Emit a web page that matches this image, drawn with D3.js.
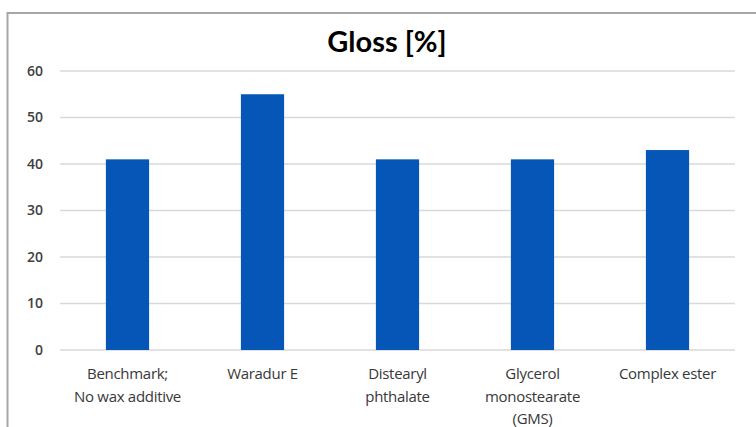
<!DOCTYPE html>
<html>
<head>
<meta charset="utf-8">
<script src="https://cdn.jsdelivr.net/npm/d3@7"></script>
<style>
  body { margin: 0; background: #fff; }
  svg { display: block; }
</style>
</head>
<body>
<div id="chart"></div>
<script>
// data
var categories = [
  ["Benchmark;", "No wax additive"],
  ["Waradur E"],
  ["Distearyl", "phthalate"],
  ["Glycerol", "monostearate", "(GMS)"],
  ["Complex ester"]
];
var gloss = [41, 55, 41, 41, 43];
var yTicks = [0, 10, 20, 30, 40, 50, 60];

var svgWidth = 756;
var svgHeight = 427;

var margin = { top: 71, bottom: 77, left: 60, right: 21 };
var width = svgWidth - margin.left - margin.right;
var height = svgHeight - margin.top - margin.bottom;

var svg = d3.select("#chart")
  .append("svg")
  .attr("width", svgWidth)
  .attr("height", svgHeight);

// outer frame (runs off the right and bottom)
svg.append("rect")
  .attr("x", 7.5)
  .attr("y", 13)
  .attr("width", 800)
  .attr("height", 500)
  .attr("fill", "none")
  .attr("stroke", "#a6a6a6")
  .attr("stroke-width", 2);

svg.append("text")
  .attr("x", 387)
  .attr("y", 52)
  .attr("text-anchor", "middle")
  .attr("font-family", "Lato, sans-serif")
  .attr("font-weight", "bold")
  .attr("font-size", "29px")
  .attr("fill", "#000")
  .text("Gloss [%]");

var chart = svg.append("g")
  .attr("transform", `translate(${margin.left}, ${margin.top})`);

var idx = categories.map((d, i) => i);

var xScale = d3.scaleBand()
  .domain(idx)
  .range([0, width])
  .paddingInner(0.68)
  .paddingOuter(0.34);

var yScale = d3.scaleLinear()
  .domain([0, 60])
  .range([height, 0]);

// gridlines
chart.append("g")
  .selectAll("line")
  .data(yTicks)
  .enter()
  .append("line")
  .attr("x1", 0)
  .attr("x2", width)
  .attr("y1", d => yScale(d))
  .attr("y2", d => yScale(d))
  .attr("stroke", "#d9d9d9")
  .attr("stroke-width", 1.5);

// y axis labels
var leftAxis = d3.axisLeft(yScale).tickValues(yTicks).tickSize(0).tickPadding(17);
var yAxisG = chart.append("g").call(leftAxis);
yAxisG.select(".domain").remove();
yAxisG.selectAll("text")
  .attr("font-family", "'Open Sans', sans-serif")
  .attr("font-size", "14px")
  .attr("font-weight", "600")
  .attr("fill", "#404040");

// bars
chart.selectAll("rect.bar")
  .data(gloss)
  .enter()
  .append("rect")
  .attr("class", "bar")
  .attr("x", (d, i) => xScale(i))
  .attr("y", d => yScale(d))
  .attr("width", xScale.bandwidth())
  .attr("height", d => height - yScale(d))
  .attr("fill", "#0556b7");

// category labels
var catG = chart.append("g")
  .selectAll("text")
  .data(categories)
  .enter()
  .append("text")
  .attr("text-anchor", "middle")
  .attr("font-family", "'Open Sans', sans-serif")
  .attr("font-size", "15px")
  .attr("letter-spacing", "-0.3px")
  .attr("fill", "#383838")
  .attr("transform", (d, i) => `translate(${xScale(i) + xScale.bandwidth() / 2}, ${height + 29})`);

catG.selectAll("tspan")
  .data(d => d)
  .enter()
  .append("tspan")
  .attr("x", 0)
  .attr("y", (d, j) => j * 22.5)
  .text(d => d);
</script>
</body>
</html>
